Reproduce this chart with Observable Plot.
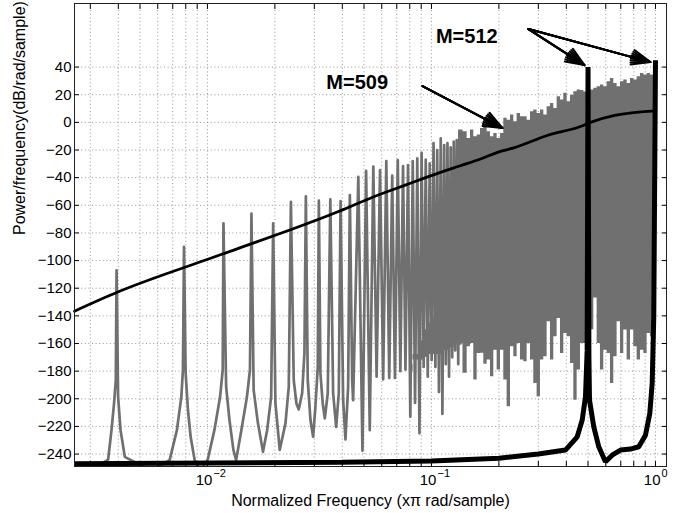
<!DOCTYPE html>
<html><head><meta charset="utf-8">
<script src="https://cdn.jsdelivr.net/npm/d3@7"></script>
<script src="https://cdn.jsdelivr.net/npm/@observablehq/plot@0.6"></script>
<style>body{margin:0;background:#fff} svg{display:block}</style>
</head><body><div id="chart"></div>
<script>
// M=509 periodogram trace (gray), vertices
const grayFreq = [0.0030,0.003603,0.003730,0.003831,0.003899,0.00393,0.003992,0.004093,0.004277,0.0056,
0.006779,0.007306,0.007646,0.007773,0.00786,0.007993,0.008183,0.008414,0.008767,0.0093,
0.01003,0.01074,0.01139,0.0117,0.01179,0.01212,0.01254,0.01306,0.01343,
0.01417,0.01501,0.01548,0.01572,0.01608,0.0168,0.0177,
0.01847,0.01925,0.01965,0.02011,0.02102,
0.0223,0.02307,0.02358,0.02428,0.02496,0.02556,
0.02647,0.0271,0.0275,0.02804,0.02883,0.02963,
0.03034,0.03108,0.03143,0.03194,0.03271,0.03341,
0.03444,0.03536,0.0364,0.03755,0.03857,0.03929,0.04034,0.04131,0.04247,0.04322,0.04426,0.04471,
0.04715,0.0492,0.05108,0.05304,0.05501,0.05691,0.05894,0.06087,0.06287,0.06479,0.0668,0.06871,
0.07073,0.07264,0.07466,0.07654,0.07859,0.08046,0.08251,0.08446,0.08644,0.08839,0.09037,0.09232,
0.0943,0.09627,0.09823,0.1002,0.10216,0.1041,0.10609,0.108,0.11002,0.1119,0.11395,0.1159,
0.11788,0.1198,0.12181,0.1238,0.12574,0.1277,0.12967,0.1317,0.1336,0.1347];
const grayDb = [-252,-244,-222.7,-203,-186.5,-107,-198.6,-222.7,-242,-252,
-244.4,-222.7,-198.6,-179,-90,-181.4,-208,-227.5,-244.4,-252,
-244,-222.7,-198.6,-179,-73,-191.3,-215.4,-237,-244.4,
-222.7,-198.6,-179,-66,-193.7,-217.6,-238.4,
-222.7,-198.6,-73,-203,-237,
-217.8,-191.3,-57.5,-186.5,-203.4,-207.7,
-196,-167,-53.5,-186.5,-215.4,-227.5,
-205.8,-176.9,-56.7,-181.6,-203.4,-214.2,
-196,-55.7,-196,-220.3,-196,-57,-201,-229.4,-191,-52.6,-186.5,-201,
-39.5,-237.6,-35,-222.7,-32,-184,-34.5,-186,-28,-185,-38.6,-185,
-27.3,-180,-31.6,-179,-31,-213,-28,-203,-26,-225,-22,-177,
-27,-184,-29.7,-172,-15,-177,-20,-195,-11.6,-211,-16.4,-175,
-15,-184,-18,-170,-14,-165,-12.8,-175,-8,-160];

// dense part of the M=509 trace: top and bottom of the gray mass
const denseFreq = [0.0805,0.0851,0.0897,0.0946,0.0997,0.1050,0.1107,0.1167,0.1230,0.1296,
0.1347,0.1419,0.1468,0.1519,0.1572,0.1627,0.1684,0.1742,0.1803,0.1866,
0.1931,0.1998,0.2068,0.2140,0.2214,0.2292,0.2371,0.2454,0.2540,0.2628,
0.2720,0.2814,0.2912,0.3014,0.3119,0.3228,0.3340,0.3457,0.3577,0.3702,
0.3831,0.3964,0.4103,0.4246,0.4394,0.4547,0.4707,0.4870,0.5040,0.5216,
0.5397,0.5584,0.5779,0.5980,0.6188,0.6404,0.6627,0.6858,0.7097,0.7344,
0.7603,0.7867,0.8141,0.8425,0.8720,0.9024,0.9337,0.9663,0.99];
const denseTop = [-180,-168,-158,-150,-145,-140,-135,-128,-122,-115,
-5.6,-6.8,-11.6,-5.6,-10.4,-9.2,-4.4,-3.2,-6.8,-10.4,
-8,-11.6,-8,2.9,1.6,5.3,0.4,6.5,4,4,
1.6,7.7,8.9,6.5,8.9,5.3,11.3,13.7,10.1,18.5,
16.1,21,14.9,19.7,22.1,23.4,23,22,22,23.4,
24.6,25.8,27,25.8,29.4,31.8,28.2,25.8,29.4,30.6,
28.2,31.8,30.6,33,35.4,34.2,35.4,34.2,34];
const denseBottom = [-175,-172,-172,-170,-168,-168,-168,-165,-163,-160,
-160,-181.6,-162.4,-160,-186.5,-167.2,-167,-175,-172,-184,
-164.8,-179.2,-164.8,-186.5,-205.8,-162.4,-169.6,-160,-172,-173.2,
-160,-172,-188.9,-198.6,-172,-169.6,-144.3,-172,-155.2,-141.9,
-167.2,-152.7,-155.2,-174.4,-201,-179.2,-160,-160,-160,-150,
-127,-160,-179.2,-164.8,-167.2,-188.9,-169.6,-144.3,-167.2,-150.3,
-172,-150.3,-162.4,-172,-164.8,-167.2,-152.7,-155.2,-160];

// thin black smooth curve
const refFreq = [0.00255,0.0040,0.00997,0.0131,0.0392,0.0553,0.0779,0.1097,0.1347,0.1655,0.2032,0.2331,0.3284,0.4627,0.5126,0.6514,0.8003,0.9667,1.0];
const refDb = [-136.6,-122.6,-99.2,-92.4,-64,-53.8,-44.9,-36.2,-31.4,-26.5,-21,-18.5,-9.5,-3,0,4.8,7,8.2,8.3];

// M=512 trace (thick black)
const m512Freq = [0.00255,0.04,0.1,0.2,0.3,0.3964,0.4474,0.4709,0.487,0.4955,0.5,0.5045,0.5076,0.5304,0.5583,0.598,0.6406,0.6978,0.7732,0.8423,0.9024,0.9432,0.9667,0.9826,1.0];
const m512Db = [-247,-246,-245,-243,-240,-237.1,-227.5,-215.4,-198.6,-164.8,40,-170,-201,-220.3,-234.7,-245.6,-240.8,-237.1,-236.4,-234.7,-226.3,-210.6,-188.9,-140.7,45];

const yTicks = [-240,-220,-200,-180,-160,-140,-120,-100,-80,-60,-40,-20,0,20,40];
const xGridTicks = [0.003,0.004,0.005,0.006,0.007,0.008,0.009,0.01,0.02,0.03,0.04,0.05,0.06,0.07,0.08,0.09,0.1,0.2,0.3,0.4,0.5,0.6,0.7,0.8,0.9,1];
const xMajorTicks = [0.01, 0.1, 1];
const xMajorExp = ["\u22122", "\u22121", "0"];

const labelText = ["M=512", "M=509"];
const labelFreq = [0.1438, 0.0466];
const labelDb = [62.2, 28.8];

const arrowFrom = [[0.0912, 26.3], [0.271, 67.5], [0.271, 67.5]];
const arrowTo = [[0.2075, -4.1], [0.4818, 41.4], [0.9499, 43.6]];

const gray = grayFreq.map((f, i) => ({f, db: grayDb[i]}));
const dense = denseFreq.map((f, i) => ({f, top: denseTop[i], bottom: denseBottom[i]}));
const ref = refFreq.map((f, i) => ({f, db: refDb[i]}));
const m512 = m512Freq.map((f, i) => ({f, db: m512Db[i]}));
const labels = labelText.map((t, i) => ({t, f: labelFreq[i], db: labelDb[i]}));
const arrows = arrowFrom.map((a, i) => ({x1: a[0], y1: a[1], x2: arrowTo[i][0], y2: arrowTo[i][1]}));

const GRAY = "#707070";
const fmt = d => d < 0 ? "\u2212" + Math.abs(d) : String(d);
const noText = () => "";

const chart = Plot.plot({
  width: 679, height: 513,
  marginLeft: 74, marginRight: 13, marginTop: 3, marginBottom: 47,
  style: {fontFamily: "'Liberation Sans', Arial, Helvetica, sans-serif", fontSize: "13px", background: "white", color: "black"},
  x: {type: "log", domain: [0.00255, 1.12]},
  y: {domain: [-249, 86]},
  marks: [
    Plot.ruleX(xGridTicks, {x: d => d, stroke: "#8a8a8a", strokeWidth: 0.9, strokeDasharray: "1,2.6"}),
    Plot.ruleY(yTicks, {y: d => d, stroke: "#8a8a8a", strokeWidth: 0.9, strokeDasharray: "1,2.6"}),
    Plot.areaY(dense, {x: "f", y1: "bottom", y2: "top", fill: GRAY, curve: "step", clip: true}),
    Plot.line(gray, {x: "f", y: "db", stroke: GRAY, strokeWidth: 2.7, clip: true}),
    Plot.line(ref, {x: "f", y: "db", stroke: "black", strokeWidth: 2.8, curve: "monotone-x"}),
    Plot.line(m512, {x: "f", y: "db", stroke: "black", strokeWidth: 5, strokeLinejoin: "bevel", strokeLinecap: "butt", clip: true}),
    Plot.frame({stroke: "#222", strokeWidth: 1}),
    Plot.axisY(yTicks, {anchor: "left", tickSize: 5, dx: 5, tickFormat: noText, label: null}),
    Plot.axisY(yTicks, {anchor: "right", tickSize: 5, dx: -5, tickFormat: noText, label: null}),
    Plot.axisX(xGridTicks, {anchor: "bottom", tickSize: 5, dy: -5, tickFormat: noText, label: null}),
    Plot.axisX(xGridTicks, {anchor: "top", tickSize: 5, dy: 5, tickFormat: noText, label: null}),
    Plot.text(yTicks, {y: d => d, frameAnchor: "left", text: fmt, textAnchor: "end", dx: -3, fontSize: 15}),
    Plot.text(xMajorTicks, {x: d => d, frameAnchor: "bottom", text: () => "10", textAnchor: "end", dx: 5, dy: 18, fontSize: 15}),
    Plot.text(xMajorTicks, {x: d => d, frameAnchor: "bottom", text: (d, i) => xMajorExp[i], textAnchor: "start", dx: 6, dy: 10, fontSize: 11}),
    Plot.text(["Normalized Frequency (x\u03c0 rad/sample)"], {frameAnchor: "bottom", dy: 39, fontSize: 16}),
    Plot.text(["Power/frequency(dB/rad/sample)"], {frameAnchor: "left", dx: -55, rotate: -90, fontSize: 16}),
    ...[44, 32, 20, 8].map(a => Plot.arrow(arrows, {x1: "x1", y1: "y1", x2: "x2", y2: "y2", stroke: "black", strokeWidth: 2, headLength: 15, headAngle: a})),
    Plot.text(labels, {x: "f", y: "db", text: "t", fontWeight: "bold", fontSize: 20})
  ]
});
document.getElementById("chart").append(chart);
</script>
</body></html>
